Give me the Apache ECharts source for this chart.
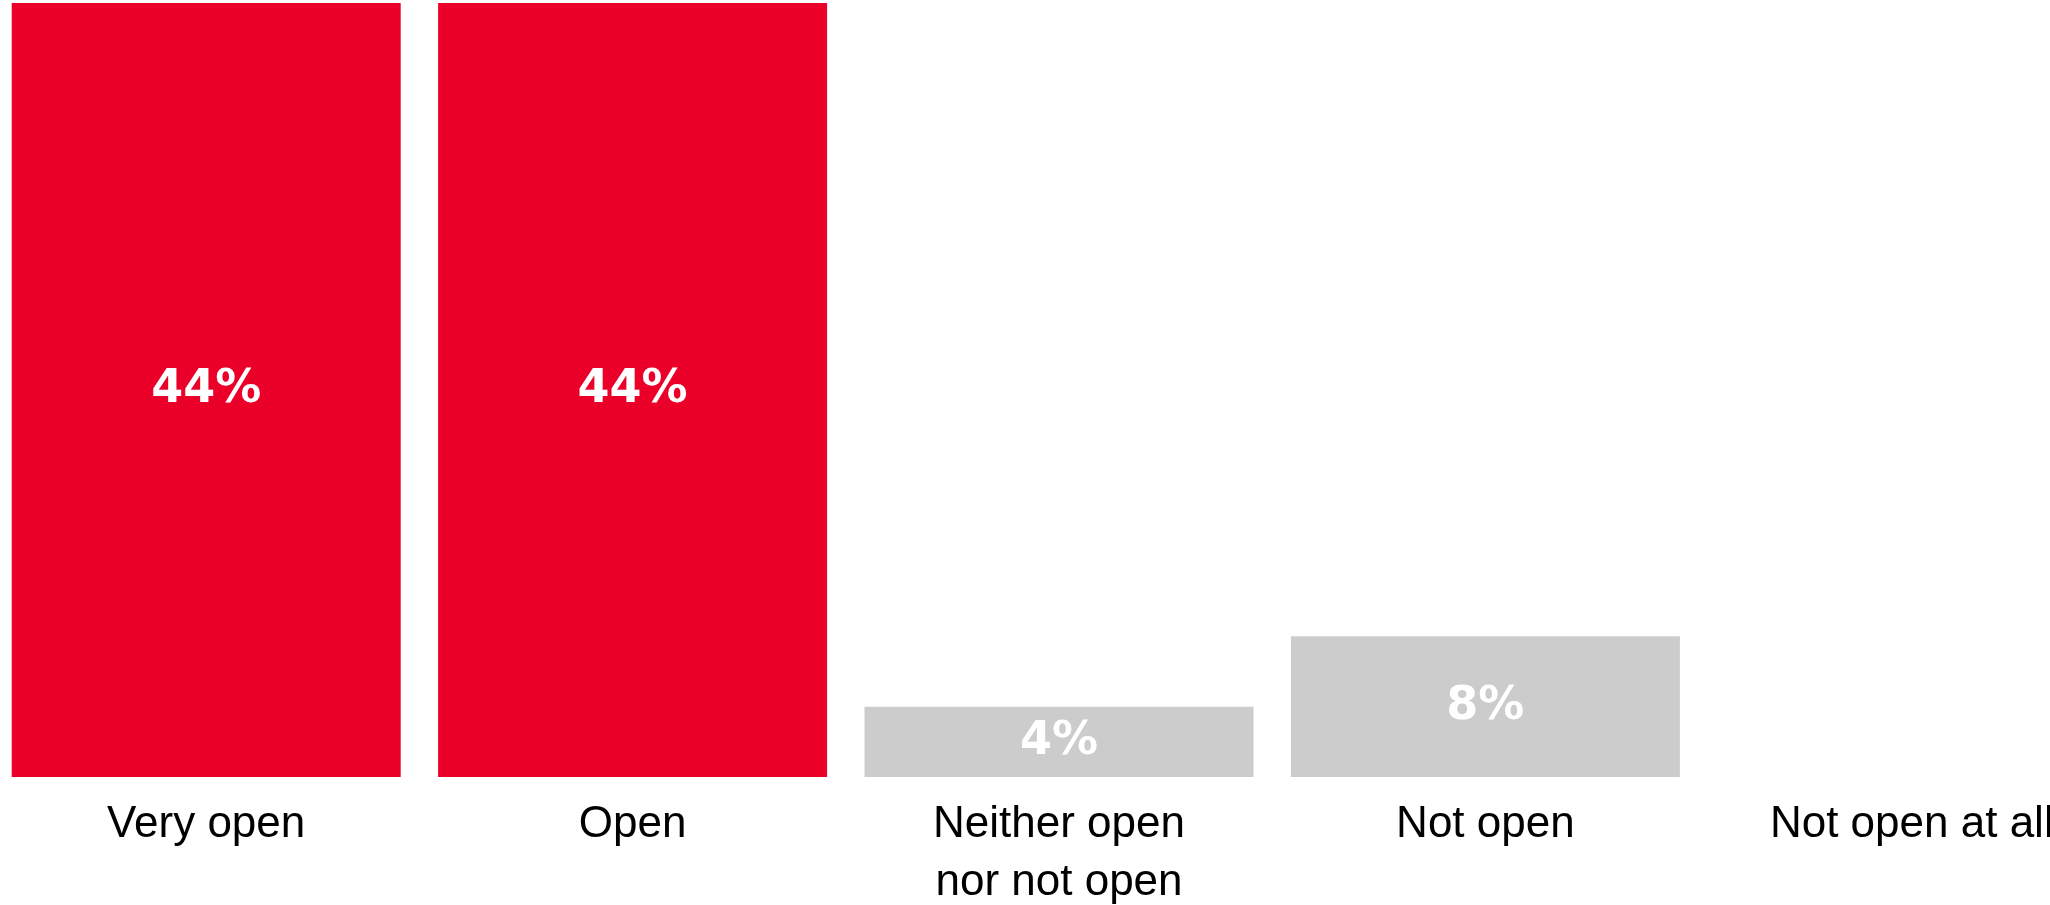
<!DOCTYPE html>
<html>
<head>
<meta charset="utf-8">
<script src="https://cdn.jsdelivr.net/npm/echarts@6/dist/echarts.min.js"></script>
<style>
  html, body { margin: 0; padding: 0; background: #fff; }
  #chart { width: 2050px; height: 905px; }
</style>
</head>
<body>
<div id="chart"></div>
<script>
// answers and share (%)
var categories = ['Very open', 'Open', 'Neither open\nnor not open', 'Not open', 'Not open at all'];
var values = [44, 44, 4, 8, 0];
var barColors = ['#EA0029', '#EA0029', '#CCCCCC', '#CCCCCC', '#CCCCCC'];

var myChart = echarts.init(document.getElementById('chart'), null, { renderer: 'canvas' });

var option = {
    animation: false,
    grid: {
        left: -7,
        right: -75,
        top: 3,
        bottom: 128,
        containLabel: false,
        outerBoundsMode: 'none'
    },
    xAxis: {
        type: 'category',
        data: categories,
        axisLine: { show: false },
        axisTick: { show: false },
        axisLabel: {
            interval: 0,
            margin: 19,
            color: '#000',
            fontFamily: 'Liberation Sans',
            fontSize: 44,
            lineHeight: 58
        }
    },
    yAxis: {
        type: 'value',
        min: 0,
        max: 44,
        show: false,
        splitLine: { show: false }
    },
    series: [{
        type: 'bar',
        barWidth: 389,
        data: values.map(function (v, i) {
            return { value: v, itemStyle: { color: barColors[i] } };
        }),
        label: {
            show: true,
            position: 'inside',
            color: '#fff',
            fontFamily: 'DejaVu Sans',
            fontWeight: 'bold',
            fontSize: 46,
            formatter: function (p) {
                return p.value ? p.value + '%' : '';
            }
        }
    }]
};

myChart.setOption(option);
</script>
</body>
</html>
